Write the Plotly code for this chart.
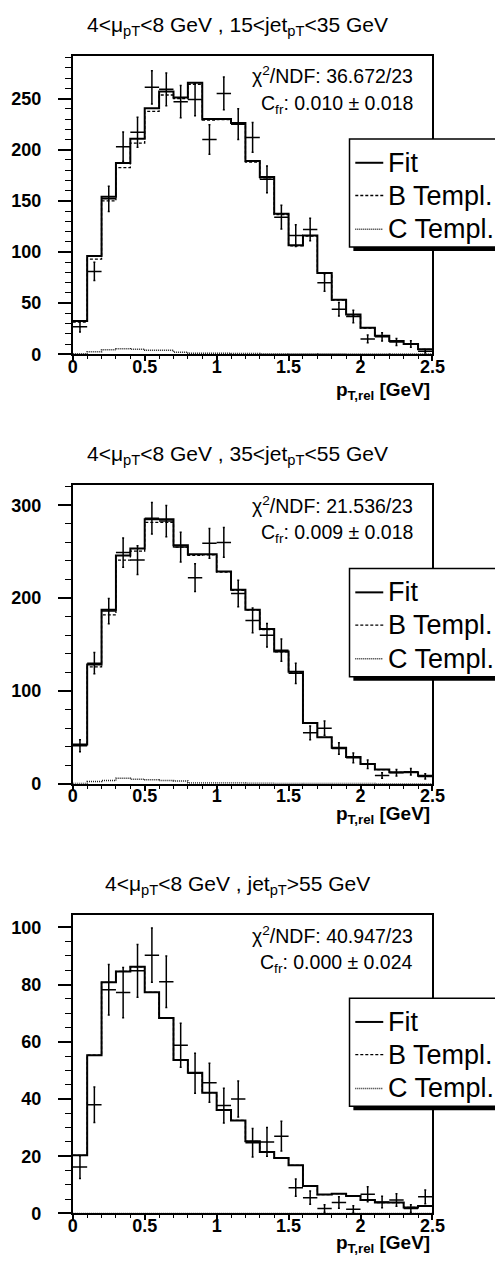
import plotly.graph_objects as go

W, H = 503, 1270

# ---------------- data ----------------
pt_rel_centers = [0.05, 0.15, 0.25, 0.35, 0.45, 0.55, 0.65, 0.75, 0.85, 0.95,
                  1.05, 1.15, 1.25, 1.35, 1.45, 1.55, 1.65, 1.75, 1.85, 1.95,
                  2.05, 2.15, 2.25, 2.35, 2.45]
x_tick_vals = [0, 0.5, 1, 1.5, 2, 2.5]
x_tick_text = ["0", "0.5", "1", "1.5", "2", "2.5"]

titles = ["4&lt;μ<sub>pT</sub>&lt;8 GeV , 15&lt;jet<sub>pT</sub>&lt;35 GeV",
          "4&lt;μ<sub>pT</sub>&lt;8 GeV , 35&lt;jet<sub>pT</sub>&lt;55 GeV",
          "4&lt;μ<sub>pT</sub>&lt;8 GeV , jet<sub>pT</sub>&gt;55 GeV"]
chi2_text = ["36.672/23", "21.536/23", "40.947/23"]
cfr_text = ["0.010 ± 0.018", "0.009 ± 0.018", "0.000 ± 0.024"]

# panel 1 : 15 < jet pT < 35
data1 = [27, 81, 152, 203, 217, 261, 259, 247, 249, 210, 255, 225, 212, 171, 134,
         116, 122, 70, 44, 37, 15, 17, 12, 10, 3]
err1 = [5.2, 9.0, 12.3, 14.2, 14.7, 16.2, 16.1, 15.7, 15.8, 14.5, 16.0, 15.0, 14.5,
        13.1, 11.6, 10.7, 11.0, 8.4, 6.6, 6.1, 3.8, 4.1, 3.4, 3.1, 1.7]
fit1 = [32.5, 96, 154, 187, 210.6, 240.6, 256.8, 251, 265.5, 230, 230, 226, 189,
        173.4, 137.3, 106.6, 116, 79.5, 53.3, 38.8, 25.8, 18, 12.9, 10, 4.8]
btpl1 = [31.5, 93, 150, 182.5, 206.5, 237.4, 253.5, 250, 264, 229, 229.5, 225, 188,
         172.5, 136.5, 106, 115.5, 79, 53, 38.5, 25.5, 17.8, 12.8, 9.9, 4.7]
ctpl1 = [0.5, 2.5, 4.5, 5.5, 5.0, 4.0, 4.0, 2.0, 1.0, 1.0, 1.0, 0.8, 0.8, 0.6, 0.6,
         0.5, 0.5, 0.4, 0.4, 0.3, 0.3, 0.3, 0.2, 0.2, 0.2]

# panel 2 : 35 < jet pT < 55
data2 = [41, 130, 186, 249, 241, 286, 283, 255, 222, 259, 260, 205, 176, 160, 144,
         119, 55, 60, 38, 28, 21, 9, 12, 13, 8]
err2 = [6.4, 11.4, 13.6, 15.8, 15.5, 16.9, 16.8, 16.0, 14.9, 16.1, 16.1, 14.3, 13.3,
        12.7, 12.0, 11.0, 7.4, 7.7, 6.2, 5.3, 4.6, 3.0, 3.5, 3.6, 2.8]
fit2 = [42.5, 128.4, 187.6, 246, 253.5, 285, 285, 257, 247.2, 247.2, 228.7, 208.9,
        187.6, 166.7, 142.6, 120.6, 65.5, 50.3, 39, 29, 21.3, 15.5, 12.4, 12.4, 8.8]
btpl2 = [42, 126, 182, 241, 250.7, 281.6, 281.6, 255, 246, 246.5, 228, 208.3,
         187, 166.2, 142.2, 120.3, 65.2, 50, 38.8, 28.8, 21.1, 15.4, 12.3, 12.3, 8.7]
ctpl2 = [0.5, 2.4, 3.5, 6.0, 5.0, 4.5, 3.5, 3.0, 1.0, 1.0, 0.8, 0.8, 0.6, 0.6, 0.5,
         0.5, 0.4, 0.4, 0.3, 0.3, 0.3, 0.2, 0.2, 0.2, 0.2]

# panel 3 : jet pT > 55
data3 = [16.2, 38, 78.2, 77.2, 84.8, 90.3, 81, 58.8, 49, 45.7, 37.7, 40, 24.7, 25, 27,
         9, 5.5, 1.7, 3.8, 1.5, 6.7, 4, 4.7, 1.7, 5.8]
err3 = [4.0, 6.2, 8.8, 8.8, 9.2, 9.5, 9.0, 7.7, 7.0, 6.8, 6.1, 6.3, 5.0, 5.0, 5.2,
        3.0, 2.3, 1.3, 2.0, 1.2, 2.6, 2.0, 2.2, 1.3, 2.4]
fit3 = [20.3, 55.3, 80.8, 84.6, 86.2, 77.3, 68.3, 53.6, 49.2, 42.2, 36.2, 32.5, 25.2,
        21.5, 19.4, 16.8, 9.6, 6.6, 6.9, 6.1, 4.7, 3.8, 3.8, 2.1, 2.6]
btpl3 = [20.3, 55.3, 80.8, 84.6, 86.2, 77.3, 68.3, 53.6, 49.2, 42.2, 36.2, 32.5, 25.2,
         21.5, 19.4, 16.8, 9.6, 6.6, 6.9, 6.1, 4.7, 3.8, 3.8, 2.1, 2.6]
ctpl3 = [0] * 25

panels = [
    dict(data=data1, err=err1, fit=fit1, b=btpl1, c=ctpl1, ymax=292.0, dtick=50, minor=10),
    dict(data=data2, err=err2, fit=fit2, b=btpl2, c=ctpl2, ymax=321.6, dtick=100, minor=20),
    dict(data=data3, err=err3, fit=fit3, b=btpl3, c=ctpl3, ymax=104.4, dtick=20, minor=5),
]

# ---------------- layout geometry (pixels) ----------------
PLOT_L, PLOT_R = 62, 435
PLOT_TOPS = [48, 481, 914]
PLOT_H = 301
XTITLE_OFF = [37, 31, 31]


def xp(x):
    return x / W


def yp(y):
    return 1 - y / H


FONT = "Liberation Sans"
C_COLOR = "#222222"

fig = go.Figure()
shapes = []
annotations = []

x_edges_lo = 0.0
x_edges_hi = 2.5


def step_xy(vals):
    xs = [x_edges_lo] + pt_rel_centers + [x_edges_hi]
    ys = [vals[0]] + list(vals) + [vals[-1]]
    return xs, ys


for i, p in enumerate(panels):
    n = "" if i == 0 else str(i + 1)
    xa, ya = "x" + n, "y" + n
    top = PLOT_TOPS[i]
    bot = top + PLOT_H

    # C template (dotted)
    xs, ys = step_xy(p["c"])
    fig.add_trace(go.Scatter(x=xs, y=ys, mode="lines", line_shape="hvh",
                             line=dict(color=C_COLOR, width=1.5, dash="1px,1px"),
                             xaxis=xa, yaxis=ya, showlegend=False, hoverinfo="skip"))
    # Fit (solid)
    xs, ys = step_xy(p["fit"])
    fig.add_trace(go.Scatter(x=xs, y=ys, mode="lines", line_shape="hvh",
                             line=dict(color="black", width=2),
                             xaxis=xa, yaxis=ya, showlegend=False, hoverinfo="skip"))
    # B template (dashed)
    xs, ys = step_xy(p["b"])
    fig.add_trace(go.Scatter(x=xs, y=ys, mode="lines", line_shape="hvh",
                             line=dict(color="black", width=1.3, dash="3px,2px"),
                             xaxis=xa, yaxis=ya, showlegend=False, hoverinfo="skip"))
    # data points
    fig.add_trace(go.Scatter(x=pt_rel_centers, y=p["data"], mode="markers",
                             marker=dict(size=1, color="black"),
                             error_x=dict(type="constant", value=0.05, thickness=1.5,
                                          width=0, color="black"),
                             error_y=dict(type="data", array=p["err"], thickness=1.5,
                                          width=1, color="black"),
                             xaxis=xa, yaxis=ya, showlegend=False))

    dom_y = [yp(bot), yp(top)]
    axis_common = dict(showline=True, linecolor="black", linewidth=2, mirror=True,
                       showgrid=False, zeroline=False, ticks="outside",
                       tickcolor="black",
                       tickfont=dict(family=FONT, size=18, color="black", weight="bold"))
    fig.update_layout(**{
        ("xaxis" + n): dict(domain=[xp(PLOT_L), xp(PLOT_R)], range=[0, 2.5],
                            anchor=ya, tickvals=x_tick_vals, ticktext=x_tick_text,
                            ticklen=5, tickwidth=1.5, ticklabelstandoff=-10,
                            minor=dict(dtick=0.1, tick0=0, ticks="outside", ticklen=3,
                                       tickwidth=1, tickcolor="black"),
                            **axis_common),
        ("yaxis" + n): dict(domain=dom_y, range=[0, p["ymax"]], anchor=xa,
                            tick0=0, dtick=p["dtick"], ticklen=13, tickwidth=1.5,
                            ticklabelstandoff=13,
                            minor=dict(dtick=p["minor"], tick0=0, ticks="outside",
                                       ticklen=6, tickwidth=1, tickcolor="black"),
                            **axis_common),
    })

    # title
    annotations.append(dict(x=xp(233), y=yp(top - 30), xref="paper", yref="paper",
                            text=titles[i], showarrow=False, xanchor="center",
                            yanchor="middle",
                            font=dict(family=FONT, size=21, color="black")))
    # stats
    annotations.append(dict(x=xp(417), y=yp(top + 20), xref="paper", yref="paper",
                            text="χ<sup>2</sup>/NDF: " + chi2_text[i], showarrow=False,
                            xanchor="right", yanchor="middle",
                            font=dict(family=FONT, size=19.5, color="black")))
    annotations.append(dict(x=xp(417), y=yp(top + 49), xref="paper", yref="paper",
                            text="C<sub>fr</sub>: " + cfr_text[i], showarrow=False,
                            xanchor="right", yanchor="middle",
                            font=dict(family=FONT, size=19.5, color="black")))
    # x-axis title
    annotations.append(dict(x=xp(PLOT_R), y=yp(bot + XTITLE_OFF[i]), xref="paper",
                            yref="paper",
                            text="<b>p<sub>T,rel</sub> [GeV]</b>", showarrow=False,
                            xanchor="right", yanchor="middle",
                            font=dict(family=FONT, size=19, color="black")))

    # legend box with shadow
    lt, lb = top + 84, top + 193
    ll, lr = 349, 530
    shapes.append(dict(type="rect", xref="paper", yref="paper",
                       x0=xp(ll + 4), x1=xp(lr + 4), y0=yp(lb + 4), y1=yp(lt + 4),
                       fillcolor="black", line=dict(width=0), layer="above"))
    shapes.append(dict(type="rect", xref="paper", yref="paper",
                       x0=xp(ll), x1=xp(lr), y0=yp(lb), y1=yp(lt),
                       fillcolor="white", line=dict(color="black", width=1.5),
                       layer="above"))
    rows = [("Fit", lt + 24, dict(color="black", width=2)),
            ("B Templ.", lt + 57, dict(color="black", width=1.3, dash="3px,2px")),
            ("C Templ.", lt + 91, dict(color=C_COLOR, width=1.5, dash="1px,1px"))]
    for label, ry, lstyle in rows:
        shapes.append(dict(type="line", xref="paper", yref="paper",
                           x0=xp(355), x1=xp(384), y0=yp(ry), y1=yp(ry),
                           line=lstyle, layer="above"))
        annotations.append(dict(x=xp(387), y=yp(ry), xref="paper", yref="paper",
                                text=label, showarrow=False, xanchor="left",
                                yanchor="middle",
                                font=dict(family=FONT, size=27, color="black")))

fig.update_layout(width=W, height=H, margin=dict(l=0, r=0, t=0, b=0),
                  paper_bgcolor="white", plot_bgcolor="white",
                  shapes=shapes, annotations=annotations, showlegend=False)

fig.write_html("out.html")
